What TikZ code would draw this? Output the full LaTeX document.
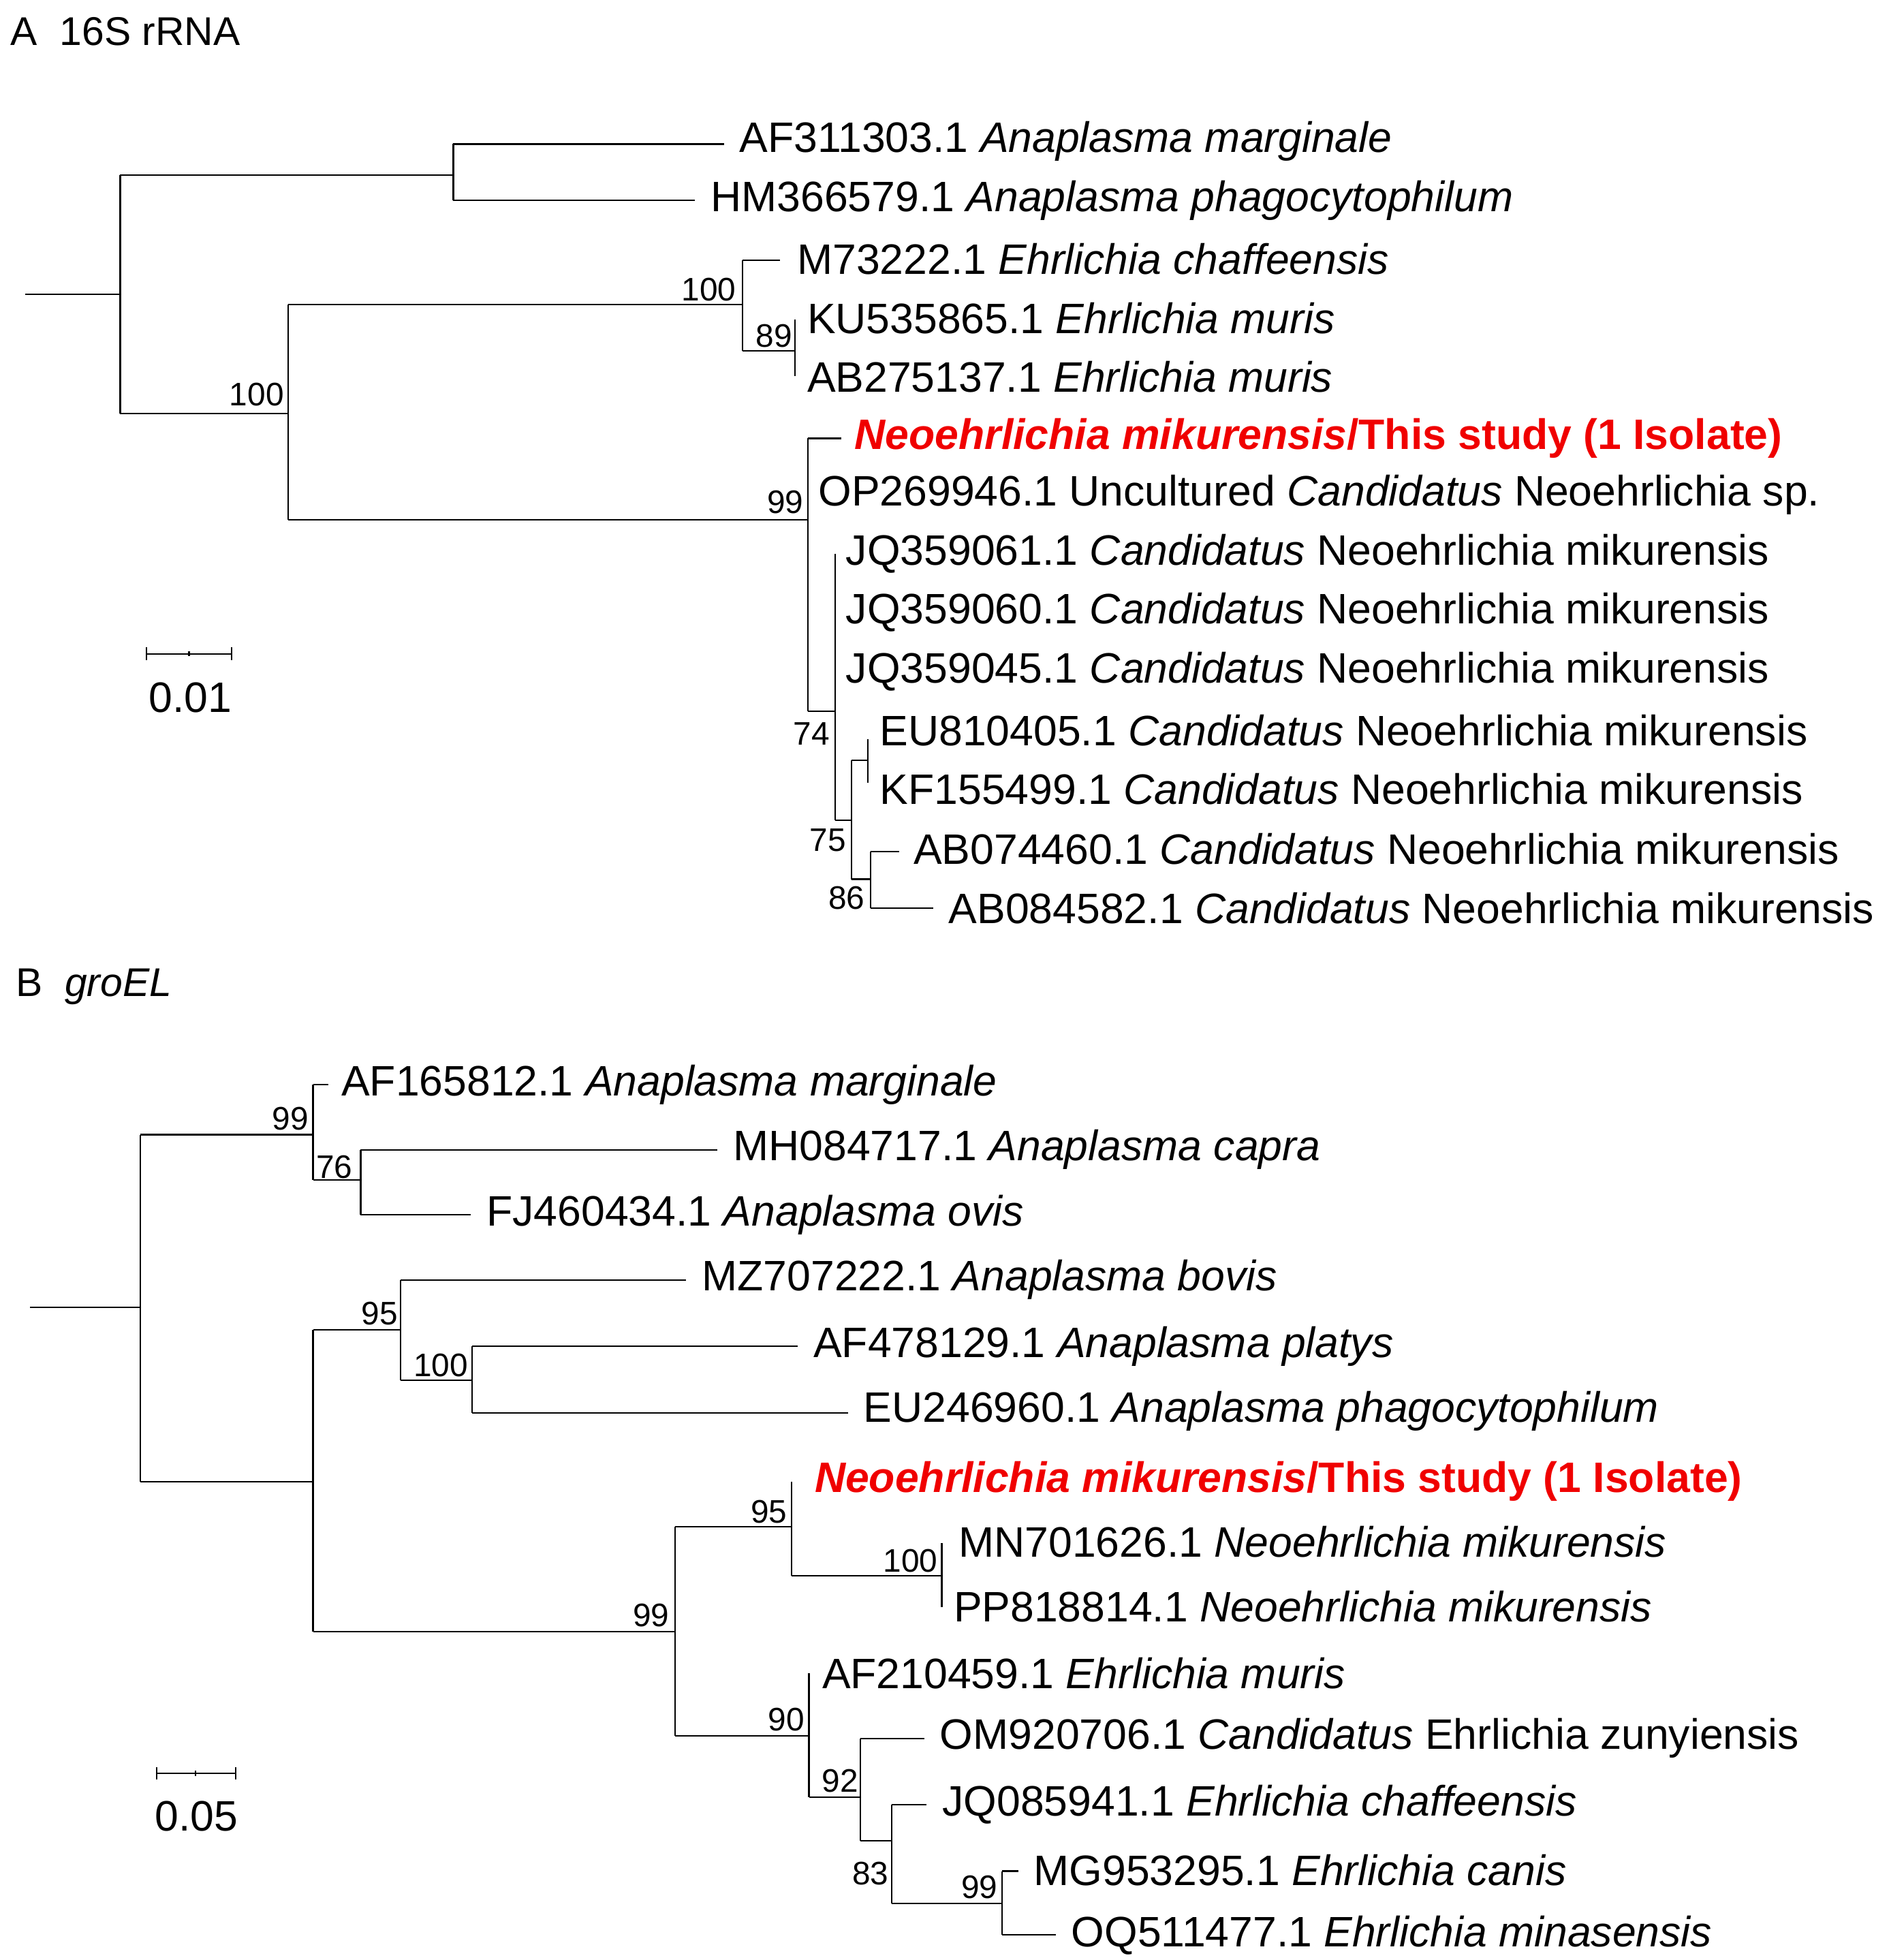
\documentclass[tikz,border=0pt]{standalone}
\usepackage{fontspec}
\setmainfont{Liberation Sans}
\begin{document}
\begin{tikzpicture}[x=0.5pt,y=-0.5pt,line width=0.6pt,
 lab/.style={anchor=west,font=\fontsize{17}{18}\selectfont,inner sep=0pt},
 bs/.style={font=\fontsize{13}{14}\selectfont,inner sep=0pt},
 ttl/.style={anchor=west,font=\fontsize{16}{17}\selectfont,inner sep=0pt}]
\useasboundingbox (0,0) rectangle (1508,1565);
\definecolor{nred}{RGB}{240,0,0}
\newcommand{\nm}{\textcolor{nred}{\textbf{\textit{Neoehrlichia mikurensis}/This study (1 Isolate)}}}
% ---------- A ----------
\node[ttl] (ta) at (8,25) {A\ \ 16S rRNA};
\draw (20,235)--(96,235) (96,140)--(96,330);
\draw (96,140)--(362,140) (362,115)--(362,160) (362,115)--(578,115) (362,160)--(555,160);
\draw (96,330)--(230,330) (230,243)--(230,415);
\draw (230,243)--(593,243) (593,208)--(593,280) (593,208)--(623,208) (593,280)--(635,280) (635,255)--(635,300);
\draw (230,415)--(645,415) (645,350)--(645,568) (645,350)--(672,350) (645,568)--(667,568);
\draw (667,442)--(667,655) (667,655)--(680,655) (680,607)--(680,702) (680,607)--(693,607) (693,590)--(693,625);
\draw (680,702)--(695,702) (695,680)--(695,725) (695,680)--(718,680) (695,725)--(745,725);
\node[lab] (a1) at (590,113) {AF311303.1 \textit{Anaplasma marginale}};
\node[lab] (a2) at (567,160) {HM366579.1 \textit{Anaplasma phagocytophilum}};
\node[lab] (a3) at (636,207) {M73222.1 \textit{Ehrlichia chaffeensis}};
\node[lab] (a4) at (644,254) {KU535865.1 \textit{Ehrlichia muris}};
\node[lab] (a5) at (644,301) {AB275137.1 \textit{Ehrlichia muris}};
\node[lab] (a6) at (682,350) {\nm};
\node[lab] (a7) at (653,395) {OP269946.1 Uncultured \textit{Candidatus} Neoehrlichia sp.};
\node[lab] (a8) at (675,442) {JQ359061.1 \textit{Candidatus} Neoehrlichia mikurensis};
\node[lab] (a9) at (675,489) {JQ359060.1 \textit{Candidatus} Neoehrlichia mikurensis};
\node[lab] (a10) at (675,536) {JQ359045.1 \textit{Candidatus} Neoehrlichia mikurensis};
\node[lab] (a11) at (702,583) {EU810405.1 \textit{Candidatus} Neoehrlichia mikurensis};
\node[lab] (a12) at (702,630) {KF155499.1 \textit{Candidatus} Neoehrlichia mikurensis};
\node[lab] (a13) at (729,678) {AB074460.1 \textit{Candidatus} Neoehrlichia mikurensis};
\node[lab] (a14) at (757,725) {AB084582.1 \textit{Candidatus} Neoehrlichia mikurensis};
\node[bs] (b1) at (205,315) {100};
\node[bs] (b2) at (566,231) {100};
\node[bs] (b3) at (618,268) {89};
\node[bs] (b4) at (627,401) {99};
\node[bs] (b5) at (648,586) {74};
\node[bs] (b6) at (661,671) {75};
\node[bs] (b7) at (676,717) {86};
\draw (117,522)--(185,522) (117,517)--(117,527) (185,517)--(185,527) (151,520)--(151,524);
\node[lab,anchor=center] (sa) at (152,557) {0.01};
% ---------- B ----------
\node[ttl] (tb) at (12,788) {B\ \ \textit{groEL}};
\draw (24,1044)--(112,1044) (112,906)--(112,1183);
\draw (112,906)--(250,906) (250,866)--(250,942) (250,866)--(262,866) (250,942)--(288,942) (288,918)--(288,970) (288,918)--(573,918) (288,970)--(376,970);
\draw (112,1183)--(250,1183) (250,1062)--(250,1303);
\draw (250,1062)--(320,1062) (320,1022)--(320,1102) (320,1022)--(548,1022) (320,1102)--(377,1102) (377,1075)--(377,1128) (377,1075)--(637,1075) (377,1128)--(677,1128);
\draw (250,1303)--(539,1303) (539,1219)--(539,1386);
\draw (539,1219)--(632,1219) (632,1183)--(632,1258) (632,1258)--(752,1258) (752,1232)--(752,1283);
\draw (539,1386)--(646,1386) (646,1336)--(646,1435) (646,1435)--(687,1435) (687,1388)--(687,1470) (687,1388)--(738,1388) (687,1470)--(712,1470) (712,1441)--(712,1520) (712,1441)--(740,1441) (712,1520)--(800,1520) (800,1494)--(800,1545) (800,1494)--(813,1494) (800,1545)--(843,1545);
\node[lab] (c1) at (272,866) {AF165812.1 \textit{Anaplasma marginale}};
\node[lab] (c2) at (585,918) {MH084717.1 \textit{Anaplasma capra}};
\node[lab] (c3) at (388,970) {FJ460434.1 \textit{Anaplasma ovis}};
\node[lab] (c4) at (560,1022) {MZ707222.1 \textit{Anaplasma bovis}};
\node[lab] (c5) at (649,1075) {AF478129.1 \textit{Anaplasma platys}};
\node[lab] (c6) at (689,1127) {EU246960.1 \textit{Anaplasma phagocytophilum}};
\node[lab] (c7) at (650,1183) {\nm};
\node[lab] (c8) at (765,1231) {MN701626.1 \textit{Neoehrlichia mikurensis}};
\node[lab] (c9) at (761,1283) {PP818814.1 \textit{Neoehrlichia mikurensis}};
\node[lab] (c10) at (656,1336) {AF210459.1 \textit{Ehrlichia muris}};
\node[lab] (c11) at (750,1388) {OM920706.1 \textit{Candidatus} Ehrlichia zunyiensis};
\node[lab] (c12) at (752,1441) {JQ085941.1 \textit{Ehrlichia chaffeensis}};
\node[lab] (c13) at (825,1493) {MG953295.1 \textit{Ehrlichia canis}};
\node[lab] (c14) at (855,1545) {OQ511477.1 \textit{Ehrlichia minasensis}};
\node[bs] (d1) at (232,893) {99};
\node[bs] (d2) at (267,932) {76};
\node[bs] (d3) at (303,1049) {95};
\node[bs] (d4) at (352,1090) {100};
\node[bs] (d5) at (520,1290) {99};
\node[bs] (d6) at (614,1207) {95};
\node[bs] (d7) at (727,1246) {100};
\node[bs] (d8) at (628,1373) {90};
\node[bs] (d9) at (671,1422) {92};
\node[bs] (d10) at (695,1496) {83};
\node[bs] (d11) at (782,1507) {99};
\draw (125,1416)--(188,1416) (125,1411)--(125,1421) (188,1411)--(188,1421) (156,1414)--(156,1418);
\node[lab,anchor=center] (sb) at (157,1450) {0.05};
\end{tikzpicture}
\end{document}
